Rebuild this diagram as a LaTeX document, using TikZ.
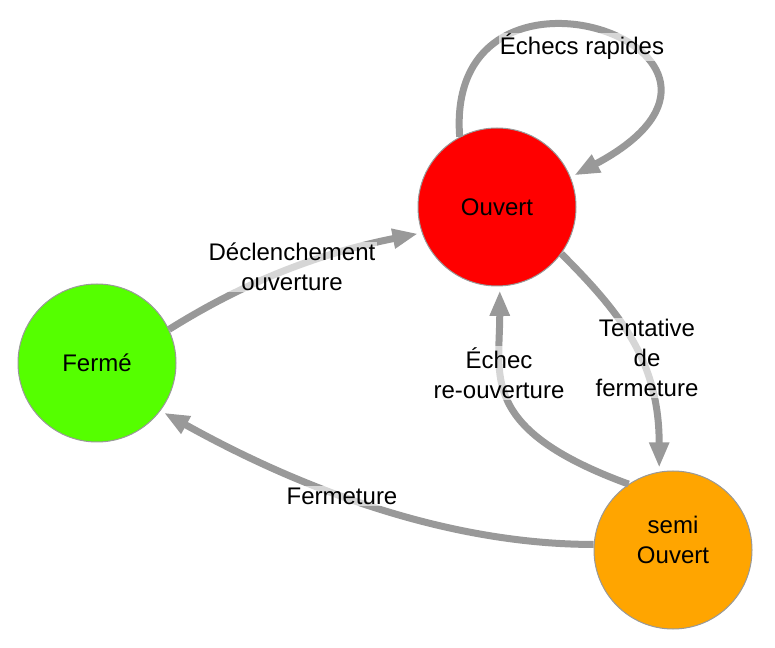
\documentclass[tikz,border=0pt]{standalone}
\usepackage{fontspec}
\setmainfont{Liberation Sans}
\usetikzlibrary{arrows.meta}
\definecolor{edgegray}{HTML}{999999}
\definecolor{etatrouge}{HTML}{FF0000}
\definecolor{etatvert}{HTML}{55FF00}
\definecolor{etatorange}{HTML}{FFA500}
\newcommand{\etatfont}{\fontsize{18}{22.5}\selectfont}

\begin{document}
\begin{tikzpicture}[x=0.75pt,y=-0.75pt,
  etat/.style={circle,draw=edgegray,line width=0.75pt,minimum size=118.5pt,
    inner sep=0pt,align=center,font=\etatfont},
  trans/.style={draw=edgegray,line width=5.25pt,
    -{Triangle[length=19pt,width=14pt]},shorten >=3pt},
  lbl/.style={align=center,font=\etatfont,fill=white,fill opacity=0.6,
    text opacity=1,inner sep=1pt}]
  \useasboundingbox (0,0) rectangle (775,648);
  \node[etat,fill=etatrouge] (ouvert) at (497,207) {Ouvert};
  \node[etat,fill=etatvert] (ferme) at (97,363) {Fermé};
  \node[etat,fill=etatorange,text depth=15pt] (semi) at (673,550) {semi\\Ouvert};
  \draw[trans] (ferme.25) .. controls +(80,-50) and +(-100,20) .. (ouvert.199);
  \draw[trans] (ouvert.118) .. controls +(-16,-210) and +(235,-125) .. (ouvert.22);
  \draw[trans] (ouvert.-36) .. controls +(60,60) and +(0,-110) .. (semi.100);
  \draw[trans] (semi.124) .. controls +(-150,-55) and +(0,90) .. (ouvert.-88);
  \draw[trans] (semi.176) .. controls +(-180,0) and +(90,50) .. (ferme.-37);
  \node[lbl] (l-rapides) at (582,47) {Échecs rapides};
  \node[lbl] (l-declench) at (292,267) {Déclenchement\\ouverture};
  \node[lbl] (l-tentative) at (647,358) {Tentative\\de\\fermeture};
  \node[lbl] (l-echec) at (499,373) {Échec\\re-ouverture};
  \node[lbl] (l-fermeture) at (342,496) {Fermeture};
\end{tikzpicture}
\end{document}
